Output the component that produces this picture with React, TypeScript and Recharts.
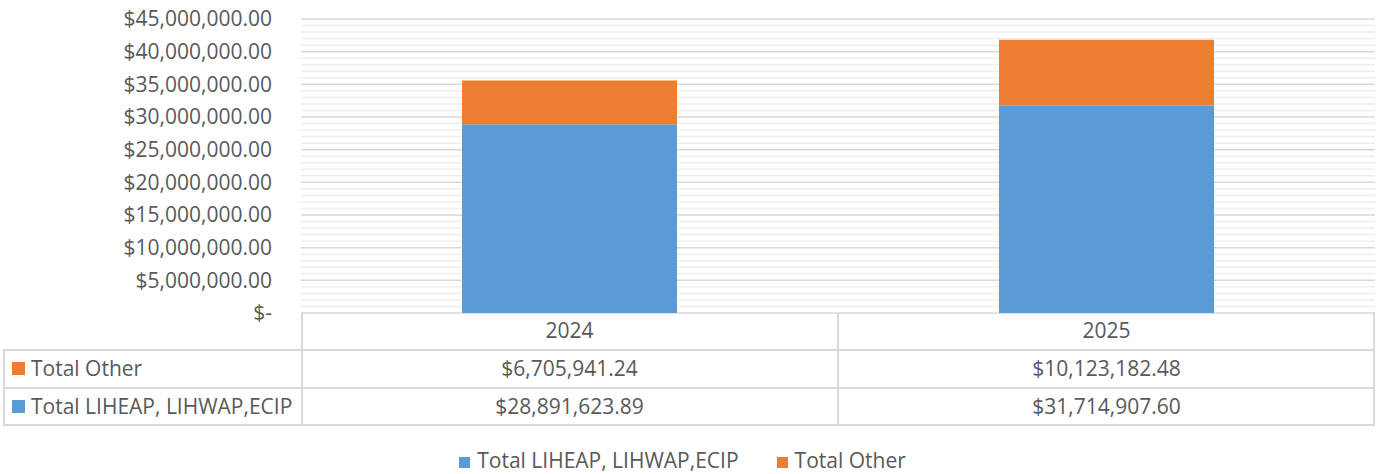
import { BarChart, Bar, XAxis, YAxis, CartesianGrid, Legend } from "recharts";

const years = ["2024", "2025"];
const liheap = [28891623.89, 31714907.6];
const other = [6705941.24, 10123182.48];
const majorTicks = [0, 5000000, 10000000, 15000000, 20000000, 25000000, 30000000, 35000000, 40000000, 45000000];
const minorStep = 1000000;
const yMax = 45000000;

const BLUE = "#5b9bd5";
const ORANGE = "#ed7d31";
const TEXT = "#595959";
const LINE = "#d9d9d9";
const FONT = "'Open Sans', 'Noto Sans', sans-serif";
const FS = 21;

const data = years.map((y, i) => ({ year: y, liheap: liheap[i], other: other[i] }));

const minorTicks: number[] = [];
majorTicks.forEach((t) => {
  for (let k = 1; k < 5; k++) {
    if (t + k * minorStep < yMax) minorTicks.push(t + k * minorStep);
  }
});

const money = (v: number) =>
  v === 0
    ? "$-"
    : "$" + v.toLocaleString("en-US", { minimumFractionDigits: 2, maximumFractionDigits: 2 });

const rows = [
  { name: "Total Other", color: ORANGE, values: other },
  { name: "Total LIHEAP, LIHWAP,ECIP", color: BLUE, values: liheap },
];

export default function App() {
  const colLeft = 301;
  const colMid = 838;
  const colRight = 1375;
  const cellText = {
    position: "absolute" as const,
    fontSize: FS,
    color: TEXT,
    fontFamily: FONT,
    textAlign: "center" as const,
    lineHeight: "38px",
    whiteSpace: "nowrap" as const,
  };

  return (
    <div style={{ position: "absolute", left: 0, top: 0, width: 1383, height: 474, background: "#fff" }}>
      <BarChart
        width={1383}
        height={474}
        data={data}
        margin={{ top: 19, right: 8, left: 0, bottom: 133 }}
      >
        {/* minor gridlines, every 1M */}
        <CartesianGrid
          vertical={false}
          stroke="#eeeeee"
          strokeWidth={1.5}
          horizontalCoordinatesGenerator={({ offset }: any) =>
            minorTicks.map((t) => offset.top + offset.height * (1 - t / yMax))
          }
        />
        <CartesianGrid vertical={false} stroke={LINE} strokeWidth={1.5} />
        <XAxis dataKey="year" hide />
        <YAxis
          domain={[0, yMax]}
          ticks={majorTicks}
          tickFormatter={money}
          axisLine={false}
          tickLine={false}
          tickSize={0}
          tickMargin={29}
          width={301}
          tick={{ fill: TEXT, fontSize: FS, fontFamily: FONT }}
        />
        <Bar dataKey="liheap" name="Total LIHEAP, LIHWAP,ECIP" stackId="a" fill={BLUE} barSize={215} isAnimationActive={false} />
        <Bar dataKey="other" name="Total Other" stackId="a" fill={ORANGE} barSize={215} isAnimationActive={false} />
        <Legend
          verticalAlign="bottom"
          iconType="square"
          iconSize={11}
          wrapperStyle={{ fontFamily: FONT, fontSize: FS, bottom: 0 }}
          formatter={(value) => (
            <span style={{ color: TEXT, marginLeft: 3, marginRight: value === "Total Other" ? 0 : 28 }}>{value}</span>
          )}
        />
      </BarChart>

      <div style={{ position: "absolute", left: 0, top: 0, width: 1383, height: 474, pointerEvents: "none" }}>
        <div style={{ position: "absolute", left: colLeft, top: 312, width: colRight - colLeft, height: 114, border: `2px solid ${LINE}`, borderTop: "none", boxSizing: "border-box" }} />
        <div style={{ position: "absolute", left: colMid - 1, top: 312, width: 2, height: 113, background: LINE }} />
        <div style={{ position: "absolute", left: 4, top: 349, width: colRight - 4, height: 2, background: LINE }} />
        <div style={{ position: "absolute", left: 4, top: 387, width: colRight - 4, height: 2, background: LINE }} />
        <div style={{ position: "absolute", left: 4, top: 424, width: colRight - 4, height: 2, background: LINE }} />
        <div style={{ position: "absolute", left: 3, top: 349, width: 2, height: 77, background: LINE }} />
        {years.map((y, i) => (
          <div key={y} style={{ ...cellText, left: colLeft + i * (colMid - colLeft), top: 311, width: colMid - colLeft }}>
            {y}
          </div>
        ))}
        {rows.map((r, ri) => (
          <div key={r.name}>
            <div style={{ ...cellText, left: 12, top: 349 + ri * 38, textAlign: "left", display: "flex", alignItems: "center", height: 38 }}>
              <span style={{ display: "inline-block", width: 13, height: 13, background: r.color, marginRight: 6 }} />
              {r.name}
            </div>
            {r.values.map((v, i) => (
              <div key={i} style={{ ...cellText, left: colLeft + i * (colMid - colLeft), top: 349 + ri * 38, width: colMid - colLeft }}>
                {money(v)}
              </div>
            ))}
          </div>
        ))}
      </div>
    </div>
  );
}
